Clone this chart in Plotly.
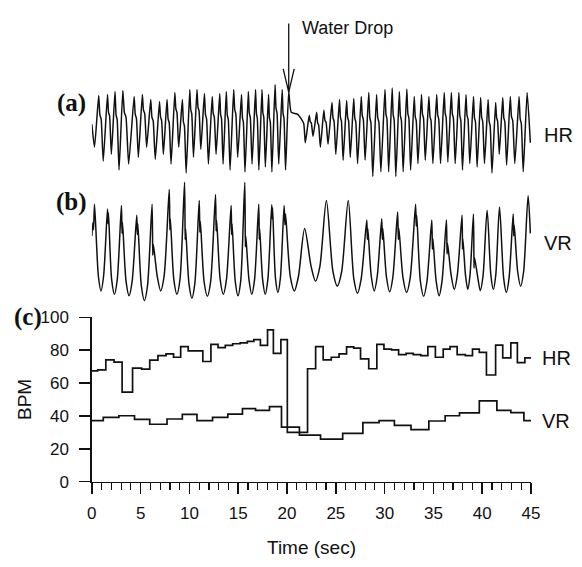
import plotly.graph_objects as go

# ---------------- data ----------------
# (c) beat-to-beat rates, step plot: start time of each step (sec) and value (BPM)
HR_STEP_T = [0.0, 0.6, 1.43, 2.27, 3.1, 4.17, 5.1, 5.93, 6.77, 7.6, 8.37, 9.1, 9.87, 11.37,
             12.2, 12.93, 13.67, 14.43, 15.2, 15.93, 16.6, 17.27, 18.0, 18.6, 19.37, 20.03,
             22.1, 22.93, 23.7, 24.53, 25.33, 26.1, 26.83, 27.53, 28.37, 29.2, 29.93, 30.7,
             31.43, 32.2, 32.93, 33.7, 34.43, 35.2, 36.0, 36.7, 37.43, 38.27, 39.0, 39.7,
             40.43, 41.37, 42.1, 42.93, 43.6, 44.37]
HR_STEP_V = [67.4, 68.0, 74.1, 72.7, 54.5, 69.1, 68.5, 74.0, 76.7, 77.7, 75.7, 82.2, 79.6, 73.1,
             83.5, 81.5, 82.9, 83.9, 84.5, 85.4, 86.4, 82.9, 92.3, 78.0, 86.4, 30.0,
             68.7, 82.2, 74.1, 75.7, 77.7, 82.0, 81.2, 74.7, 68.7, 83.5, 80.6, 80.2,
             77.3, 78.0, 77.3, 76.7, 82.2, 75.7, 80.6, 82.2, 77.3, 76.7, 80.6, 78.6,
             64.9, 83.1, 75.3, 84.5, 72.4, 75.3]
VR_STEP_T = [0.0, 1.17, 2.77, 4.37, 5.93, 7.7, 9.27, 10.77, 12.37, 13.93, 15.43, 16.77, 18.2,
             19.43, 21.27, 23.43, 25.7, 27.77, 29.43, 31.0, 32.7, 34.53, 36.2, 37.67, 39.7,
             41.5, 42.93, 44.27]
VR_STEP_V = [37.1, 39.1, 40.1, 37.9, 34.9, 38.1, 40.9, 37.1, 39.1, 41.1, 44.4, 43.4, 45.7,
             33.2, 28.3, 25.8, 29.3, 35.9, 37.1, 34.2, 31.6, 36.9, 40.1, 41.8, 49.2,
             43.4, 42.0, 37.1]
T_END = 45.0

# (a) HR waveform: peak times (sec), peak levels and following trough levels (relative units 0-100)
HR_PK_T = [0.7, 1.6, 2.37, 3.17, 4.33, 5.17, 6.03, 6.93, 7.7, 8.5, 9.27, 10.03, 10.77, 11.53,
           12.33, 13.1, 13.77, 14.53, 15.33, 16.03, 16.77, 17.43, 18.1, 18.77, 19.5, 20.17,
           22.27, 23.03, 23.77, 24.6, 25.37, 26.1, 26.83, 27.6, 28.37, 29.17, 30.03, 30.77,
           31.5, 32.27, 33.03, 33.77, 34.53, 35.33, 36.1, 36.83, 37.6, 38.33, 39.1, 39.83,
           40.6, 41.37, 42.1, 42.87, 43.77, 44.6]
HR_PK = [86, 87, 90, 91, 85, 87, 82, 80, 82, 89, 82, 92, 92, 88, 85, 88, 90, 92, 87, 90, 92,
         92, 87, 97, 92, 90,
         66, 69, 71, 79, 82, 81, 83, 85, 89, 87, 92, 93.5, 90, 92.5, 85, 87, 85, 87, 89, 89,
         89, 87, 85, 84, 82, 79, 84, 85, 85, 89]
HR_TR = [20, 27, 11, 17, 24, 34, 22, 27, 17, 34, 8, 24, 32, 17, 27, 17, 11, 24, 9, 17, 11,
         14, 9, 17, 11, None,
         45, 34, 37, 27, 21, 24, 17.5, 21, 4.5, 9.4, 9.4, 4.5, 9.4, 11, 17.5, 21, 17.5, 17.5,
         19, 17.5, 11, 17.5, 14, 17.5, 8, 27, 16, 17.5, 9.4, None]
HR_HEAD_T, HR_HEAD_V = [0.0, 0.27], [57, 34]
HR_DROP_T, HR_DROP_V = [20.43, 21.1, 21.7, 21.87], [69, 67, 58, 38.5]
HR_TAIL_T, HR_TAIL_V = [44.93], [38.5]

# (b) VR waveform: peak times, peak levels, secondary spike (0 = none), trough levels
VR_PK_T = [0.27, 1.6, 3.03, 4.6, 6.17, 7.93, 9.5, 11.0, 12.67, 14.27, 15.67, 17.1, 18.43,
           19.7, 21.8, 24.03, 26.27, 28.17, 29.7, 31.33, 33.17, 34.83, 36.33, 37.93, 39.1,
           40.5, 41.77, 43.17, 44.7]
VR_PK = [81, 77, 80, 72, 81, 93, 99, 84, 89, 80, 99, 81, 80.5, 80, 61, 84, 84, 68, 69, 74.6,
         81, 68, 68, 72, 73, 76, 78.6, 73, 88]
VR_JAG = [0, 74, 66, 65, 48, 69, 61, 67, 68, 65, 55, 61, 78, 73, 0, 0, 0, 61, 61, 61, 72,
          53, 49, 53, 37.5, 0, 0, 64, 0]
VR_TR = [9.8, 7, 5.8, 1.8, 9.8, 7, 3.7, 5.3, 7, 5.8, 7, 7, 8.5, 9.8, 17.7, 13.7, 7.9, 9.8,
         9, 8.5, 5.3, 5.8, 11, 11, 10, 11, 8.5, 13.7]
VR_HEAD_T, VR_HEAD_V = [0.0, 0.1, 0.17], [55, 66, 60]
VR_TAIL_T, VR_TAIL_V = [44.93], [57]

Y_TICKS = [0, 20, 40, 60, 80, 100]
X_TICKS = [0, 5, 10, 15, 20, 25, 30, 35, 40, 45]
WATER_DROP_T = 20.17

# ---------------- build waveform vertices ----------------
hx, hy = list(HR_HEAD_T), list(HR_HEAD_V)
for i, (t, p) in enumerate(zip(HR_PK_T, HR_PK)):
    hx.append(t); hy.append(p)
    if i == 25:
        hx += HR_DROP_T; hy += HR_DROP_V
        continue
    tr = HR_TR[i]
    if tr is None:
        continue
    iv = HR_PK_T[i + 1] - t
    d = p - tr
    hx += [t + 0.14 * iv, t + 0.28 * iv, t + 0.52 * iv]
    hy += [p - 0.30 * d, p - 0.36 * d, tr]
hx += HR_TAIL_T
hy += HR_TAIL_V

vx, vy = list(VR_HEAD_T), list(VR_HEAD_V)
for i, (t, p) in enumerate(zip(VR_PK_T, VR_PK)):
    vx.append(t); vy.append(p)
    if i >= len(VR_TR):
        continue
    iv = VR_PK_T[i + 1] - t
    tr = VR_TR[i]
    j = VR_JAG[i]
    if j:
        vx += [t + 0.04 * iv, t + 0.07 * iv]
        vy += [j - 9, j]
    vx += [t + 0.3 * iv, t + 0.5 * iv, t + 0.7 * iv]
    vy += [tr + 12, tr, tr + 12]
vx += VR_TAIL_T
vy += VR_TAIL_V

# ---------------- figure ----------------
W, H = 582, 567
def py(v):
    return 1 - v / H
def px(v):
    return v / W

INK = "#111111"
SANS = "Liberation Sans, Arial, sans-serif"
SERIF = "Liberation Serif, Times New Roman, serif"

fig = go.Figure()
fig.add_trace(go.Scatter(x=hx, y=hy, yaxis="y3", mode="lines",
                         line=dict(color=INK, width=1.5, shape="spline", smoothing=0.5),
                         hoverinfo="skip"))
fig.add_trace(go.Scatter(x=vx, y=vy, yaxis="y2", mode="lines",
                         line=dict(color=INK, width=1.5, shape="spline", smoothing=0.8),
                         hoverinfo="skip"))
fig.add_trace(go.Scatter(x=HR_STEP_T + [T_END], y=HR_STEP_V + [HR_STEP_V[-1]], yaxis="y",
                         mode="lines", line=dict(color=INK, width=1.7, shape="hv"),
                         hoverinfo="skip"))
fig.add_trace(go.Scatter(x=VR_STEP_T + [T_END], y=VR_STEP_V + [VR_STEP_V[-1]], yaxis="y",
                         mode="lines", line=dict(color=INK, width=1.7, shape="hv"),
                         hoverinfo="skip"))

XL, XR = 89, 539
fig.update_layout(
    width=W, height=H, margin=dict(l=0, r=0, t=0, b=0),
    paper_bgcolor="white", plot_bgcolor="white", showlegend=False,
    font=dict(family=SANS, color=INK, size=17),
    xaxis=dict(domain=[px(XL), px(XR)], range=[0, T_END], anchor="y",
               showline=True, linecolor=INK, linewidth=1.5, showgrid=False, zeroline=False,
               tickmode="array", tickvals=X_TICKS, ticks="outside", ticklen=11,
               tickwidth=1.5, tickcolor=INK, tickfont=dict(size=17), ticklabelstandoff=4,
               minor=dict(dtick=1, ticks="outside", ticklen=7, tickwidth=1.2,
                          tickcolor=INK, showgrid=False)),
    yaxis=dict(domain=[py(489), py(319)], range=[0, 100], anchor="x",
               showline=True, linecolor=INK, linewidth=1.5, showgrid=False, zeroline=False,
               tickmode="array", tickvals=Y_TICKS, ticks="outside", ticklen=11,
               tickwidth=1.5, tickcolor=INK, tickfont=dict(size=17), ticklabelstandoff=7),
    yaxis2=dict(domain=[py(304), py(178)], range=[0, 100], visible=False, anchor="x"),
    yaxis3=dict(domain=[py(178), py(75)], range=[0, 100], visible=False, anchor="x"),
)

ann = [
    dict(text="<b>(a)</b>", x=px(68), y=py(97), font=dict(family=SERIF, size=25)),
    dict(text="<b>(b)</b>", x=px(68), y=py(200), font=dict(family=SERIF, size=25)),
    dict(text="<b>(c)</b>", x=px(24), y=py(319), font=dict(family=SERIF, size=25)),
    dict(text="HR", x=px(550), y=py(130), xanchor="left", font=dict(size=20)),
    dict(text="VR", x=px(550), y=py(242), xanchor="left", font=dict(size=20)),
    dict(text="Water Drop", x=px(302), y=py(20), xanchor="left", font=dict(size=18)),
    dict(text="BPM", x=px(20), y=py(404), textangle=-90, font=dict(size=19)),
    dict(text="Time (sec)", x=px((XL + XR) / 2), y=py(557), font=dict(size=19)),
]
for a in ann:
    a.update(xref="paper", yref="paper", showarrow=False)
    a.setdefault("xanchor", "center")
    a.setdefault("yanchor", "middle")
    fig.add_annotation(**a)
fig.add_annotation(text="HR", xref="paper", yref="y", x=px(548), y=HR_STEP_V[-1],
                   xanchor="left", yanchor="middle", showarrow=False, font=dict(size=20))
fig.add_annotation(text="VR", xref="paper", yref="y", x=px(548), y=VR_STEP_V[-1],
                   xanchor="left", yanchor="middle", showarrow=False, font=dict(size=20))

# water-drop arrow (open V head), anchored at the drop time on the time axis
for (x0, y0, x1, y1) in [(0, 15, 0, 86), (-5.5, 62, 0, 86), (5.5, 62, 0, 86)]:
    fig.add_shape(type="line", xref="x", yref="paper", xsizemode="pixel",
                  xanchor=WATER_DROP_T, x0=x0, x1=x1, y0=py(y0), y1=py(y1),
                  line=dict(color=INK, width=1.3))

fig.write_html("out.html", config={"displayModeBar": False, "staticPlot": True},
               post_script="document.body.style.margin='0';document.body.style.overflow='hidden';")
